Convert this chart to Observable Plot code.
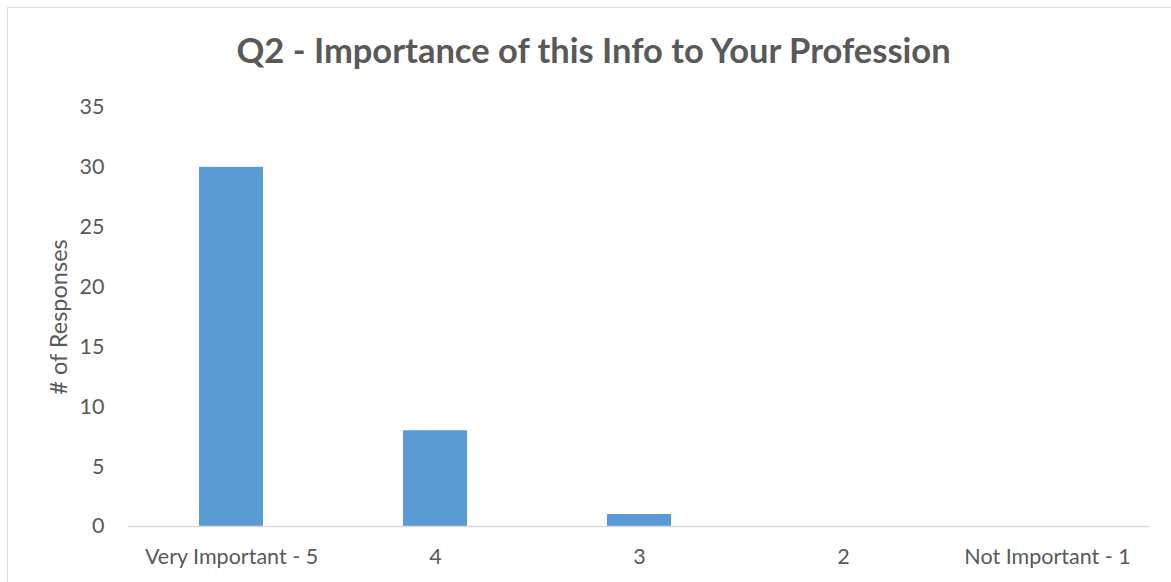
<!DOCTYPE html>
<html>
<head>
<meta charset="utf-8">
<script src="https://cdn.jsdelivr.net/npm/d3@7"></script>
<script src="https://cdn.jsdelivr.net/npm/@observablehq/plot@0.6"></script>
<style>
  html, body { margin: 0; padding: 0; background: #fff; }
  #wrap { position: relative; width: 1171px; height: 582px; overflow: hidden; font-family: Lato, "Noto Sans", sans-serif; }
  #frame { position: absolute; left: 7px; top: 7px; width: 1200px; height: 600px; border-top: 1.5px solid #d9d9d9; border-left: 1.5px solid #d9d9d9; box-sizing: border-box; }
  #title { position: absolute; left: 0; width: 1187px; top: 29px; text-align: center; font-size: 34.5px; font-weight: bold; color: #595959; line-height: 1.2; }
  #chart { position: absolute; left: 0; top: 0; }
</style>
</head>
<body>
<div id="wrap">
  <div id="frame"></div>
  <div id="chart"></div>
  <div id="title">Q2 - Importance of this Info to Your Profession</div>
</div>
<script>
const categories = ["Very Important - 5", "4", "3", "2", "Not Important - 1"];
const responses = [30, 8, 1, 0, 0];
const yTicks = [0, 5, 10, 15, 20, 25, 30, 35];
const yLabel = "# of Responses";

const data = categories.map((c, i) => ({category: c, value: responses[i]}));

const chart = Plot.plot({
  width: 1171,
  height: 582,
  marginLeft: 128,
  marginRight: 21,
  marginTop: 107,
  marginBottom: 56,
  style: {fontFamily: "Lato, 'Noto Sans', sans-serif", fontSize: "21.5px", color: "#595959", background: "transparent"},
  x: {domain: categories, paddingInner: 0.687, paddingOuter: 0.3435},
  y: {domain: [0, 35]},
  marks: [
    Plot.barY(data, {x: "category", y: "value", fill: "#5b9bd5"}),
    Plot.ruleY([0], {stroke: "#d9d9d9", strokeWidth: 1.5}),
    Plot.axisX({tickSize: 0, tickPadding: 22, label: null, fontSize: 21.5}),
    Plot.axisY({ticks: yTicks, tickSize: 0, tickPadding: 24, label: null, fontSize: 21.5}),
    Plot.text([yLabel], {frameAnchor: "left", textAnchor: "middle", lineAnchor: "middle", rotate: -90, dx: -69, fontSize: 23.5, fill: "#595959"})
  ]
});
document.getElementById("chart").appendChild(chart);
</script>
</body>
</html>
